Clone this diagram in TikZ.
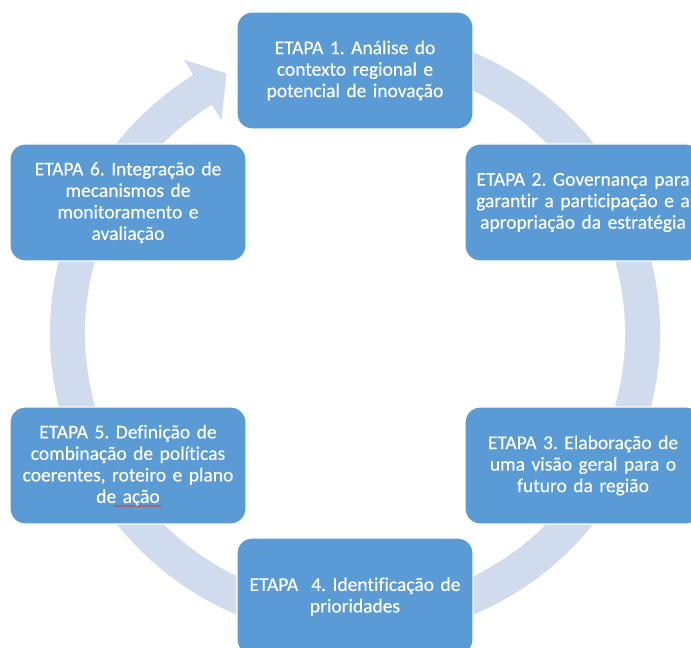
\documentclass[tikz,border=0pt]{standalone}
\usepackage{fontspec}
\setmainfont{Carlito}[Ligatures=NoCommon, FakeBold=0.3]
\usetikzlibrary{calc,decorations.pathmorphing}
\definecolor{boxblue}{RGB}{91,155,213}
\definecolor{ringblue}{RGB}{208,219,238}
\definecolor{spellred}{RGB}{220,60,60}
\frenchspacing
\begin{document}
\begin{tikzpicture}[x=1pt,y=1pt,
  stage/.style={draw=white, line width=1.2pt, fill=boxblue, rounded corners=15pt,
    minimum width=236pt, minimum height=117pt, text=white, align=center,
    text width=234pt, inner sep=0pt, font=\fontsize{19.5}{21.5}\selectfont},
  ring/.style={draw=ringblue, line width=35pt},
  squiggle/.style={draw=spellred, line width=0.7pt, decorate,
    decoration={snake, amplitude=0.8pt, segment length=3pt}}]
\useasboundingbox (0,0) rectangle (691,648);
\clip (0,0) rectangle (691,648);
\fill[white] (0,0) rectangle (691,648);
\coordinate (C) at (355,314.5);
% circular arrow
\draw[ring] ($(C)+(110:287.5)$) arc[start angle=110, end angle=-238.3, radius=287.5];
\fill[ringblue] ($(C)+(122:252)$) -- ($(C)+(122:323)$) -- ($(C)+(116.3:290)$) -- cycle;
% stages
\node[stage] (s1) at (355,577.5) {ETAPA 1. Análise do\\contexto regional e\\potencial de inovação};
\node[stage] (s2) at (583,445.5) {ETAPA 2. Governança para\\garantir a participação e a\\apropriação da estratégia};
\node[stage] (s3) at (583,182.5) {ETAPA 3. Elaboração de\\uma visão geral para o\\futuro da região};
\node[stage] (s4) at (355,51.5) {ETAPA\ \ 4. Identificação de\\prioridades};
\node[stage] (s5) at (128,182.5) {ETAPA 5. Definição de\\combinação de políticas\\coerentes, roteiro e plano\\de ação};
\node[stage] (s6) at (128,445.5) {ETAPA 6. Integração de\\mecanismos de\\monitoramento e\\avaliação};
% spell-check underline
\draw[squiggle] (114,142) -- (162,142);
\end{tikzpicture}
\end{document}
